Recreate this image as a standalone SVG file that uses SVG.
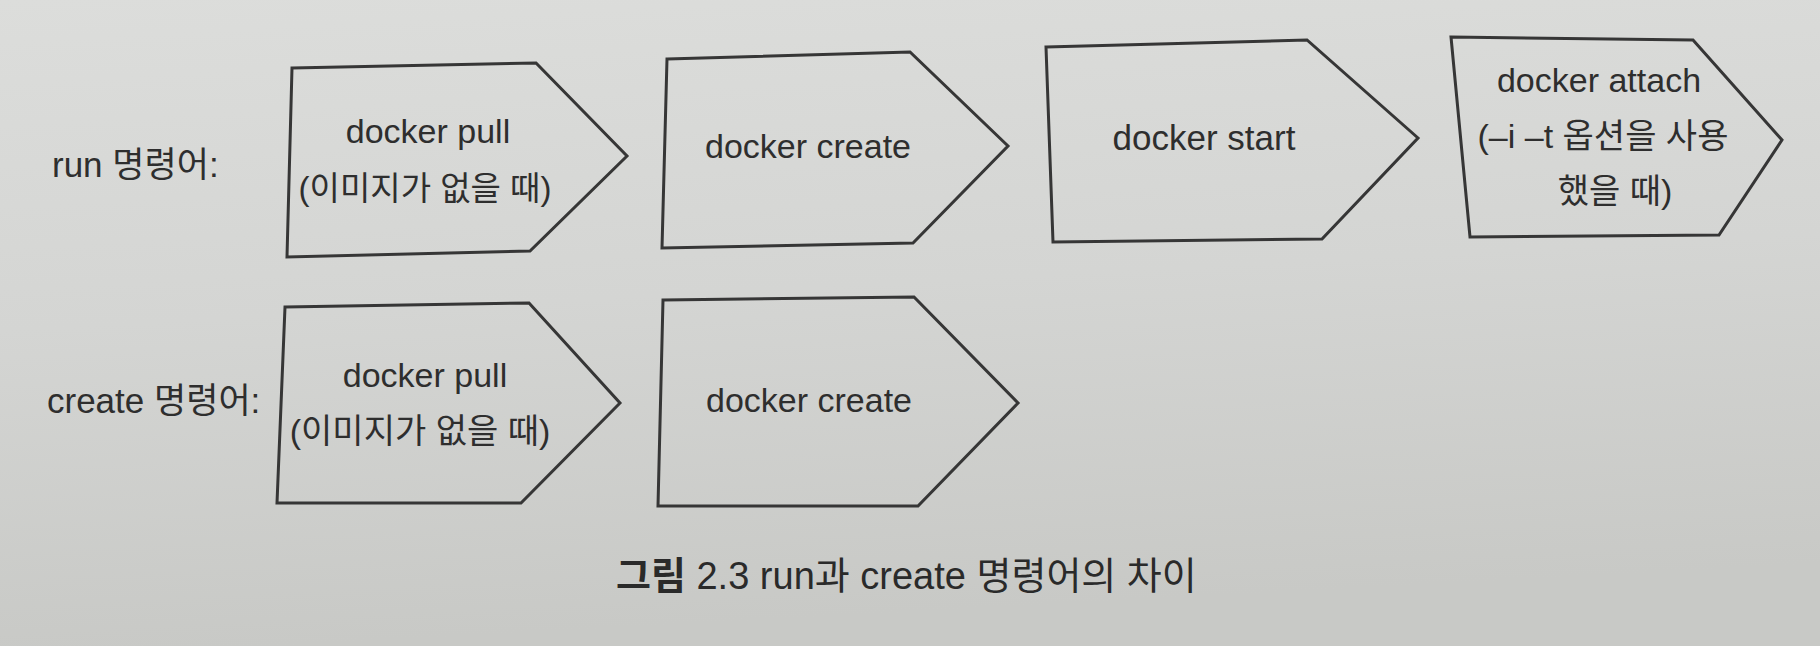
<svg xmlns="http://www.w3.org/2000/svg" width="1820" height="646" viewBox="0 0 1820 646">
  <defs>
    <linearGradient id="paper" x1="0" y1="0" x2="0.15" y2="1">
      <stop offset="0" stop-color="#dcdddb"/>
      <stop offset="0.5" stop-color="#d4d5d3"/>
      <stop offset="1" stop-color="#c8c9c6"/>
    </linearGradient>
    <style>
      .shape { fill: none; stroke: #363636; stroke-width: 3; stroke-linejoin: miter; }
      .t { font-family: "Liberation Sans", "Noto Sans CJK KR", sans-serif; font-size: 34px; fill: #2e2e2e; text-anchor: middle; }
      .lbl { font-family: "Liberation Sans", "Noto Sans CJK KR", sans-serif; font-size: 35px; fill: #2e2e2e; }
      .cap { font-family: "Liberation Sans", "Noto Sans CJK KR", sans-serif; font-size: 38px; fill: #2a2a2a; }
      .b { font-weight: bold; }
    </style>
  </defs>
  <rect x="0" y="0" width="1820" height="646" fill="url(#paper)"/>

  <g id="label-run">
    <text class="lbl" x="52" y="177">run 명령어:</text>
  </g>
  <g id="label-create">
    <text class="lbl" x="47" y="413">create 명령어:</text>
  </g>

  <g id="run-pull">
    <polygon class="shape" points="292,68 536,63 627,156 530,251 287,257"/>
    <text class="t" x="428" y="143">docker pull</text>
    <text class="t" x="425" y="200" style="font-size:33px">(이미지가 없을 때)</text>
  </g>
  <g id="run-create">
    <polygon class="shape" points="667,59 910,52 1008,146 913,243 662,248"/>
    <text class="t" x="808" y="158">docker create</text>
  </g>
  <g id="run-start">
    <polygon class="shape" points="1046,47 1307,40 1418,138 1322,239 1053,242"/>
    <text class="t" x="1204" y="150" style="font-size:35px">docker start</text>
  </g>
  <g id="run-attach">
    <polygon class="shape" points="1451,37 1693,40 1782,140 1719,235 1470,237"/>
    <text class="t" x="1599" y="92">docker attach</text>
    <text class="t" x="1603" y="148">(–i –t 옵션을 사용</text>
    <text class="t" x="1615" y="203">했을 때)</text>
  </g>

  <g id="create-pull">
    <polygon class="shape" points="285,307 529,303 620,403 521,503 277,503"/>
    <text class="t" x="425" y="387">docker pull</text>
    <text class="t" x="420" y="443">(이미지가 없을 때)</text>
  </g>
  <g id="create-create">
    <polygon class="shape" points="663,300 914,297 1018,403 918,506 658,506"/>
    <text class="t" x="809" y="412">docker create</text>
  </g>

  <g id="connectors"/>

  <g id="caption">
    <text class="cap" x="616" y="589"><tspan class="b">그림</tspan> 2.3 run과 create 명령어의 차이</text>
  </g>
</svg>
